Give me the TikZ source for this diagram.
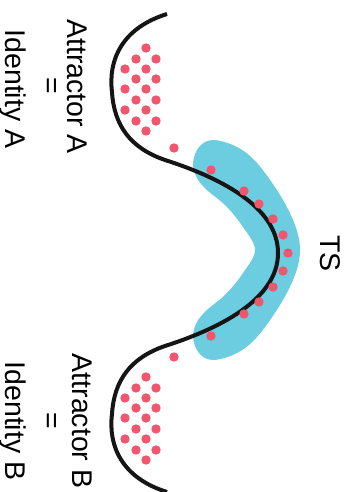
\documentclass[tikz,border=0pt]{standalone}
\usepackage{fontspec}
\setsansfont{Liberation Sans}
\definecolor{tscyan}{HTML}{6CCCE0}
\definecolor{cellred}{HTML}{F0566E}
\definecolor{landblack}{HTML}{151515}

\begin{document}
\begin{tikzpicture}[
		x=1pt, y=-1pt,
		font=\sffamily,
		every node/.style={
				font=\sffamily\fontsize{28.5}{34}\selectfont,
				rotate=-90, anchor=base, inner sep=0pt,
			},
		cell/.style={fill=cellred},
	]
	\useasboundingbox (0,0) rectangle (350,492);
	% transition state band
	\fill [tscyan] plot[smooth cycle, tension=0.6] coordinates {
			(213,140) (237,147) (257,163) (280,195) (295,225) (300,250)
			(295,275) (280,305) (257,337) (237,353) (213,360) (199,353)
			(193,337) (197,322) (207,310) (226,294) (243,273) (255,250)
			(243,227) (226,206) (207,190) (197,178) (193,163) (199,147)};
	% landscape
	\draw [landblack, line width=4pt]
		(167,14) .. controls (122,28) and (108,60) .. (112,92)
		.. controls (114,125) and (130,148) .. (165,160)
		.. controls (215,176) and (278,205) .. (278,253)
		.. controls (278,301) and (215,330) .. (165,346)
		.. controls (130,358) and (114,381) .. (112,414)
		.. controls (108,446) and (122,478) .. (167,492);
	% cells in the two attractors
	\foreach \oy in {0,329} {
			\foreach \x/\y in {146/48, 136/59, 156/59, 125/69, 146/69, 136/79, 156/79,
					125/89, 146/89, 136/100, 156/100, 125/110, 146/110, 136/121, 156/121, 146/131} {
					\fill [cell] (\x,\y+\oy) circle (4.7pt);
				}
		}
	% cells on the way
	\foreach \x/\y in {174/148, 211/170, 244/191, 259/204, 273/219, 283/235, 288/253,
			283/271, 273/287, 259/302, 244/314, 211/336, 174/357} {
			\fill [cell] (\x,\y) circle (4.7pt);
		}
	\node (attrA) at (67,86.5) {Attractor A};
	\node (eqA) at (42,85.5) {=};
	\node (identA) at (5.5,89) {Identity A};
	\node (ts) at (320,253.5) {TS};
	\node (attrB) at (72,421) {Attractor B};
	\node (eqB) at (42,421) {=};
	\node (identB) at (5.5,421) {Identity B};
\end{tikzpicture}
\end{document}
